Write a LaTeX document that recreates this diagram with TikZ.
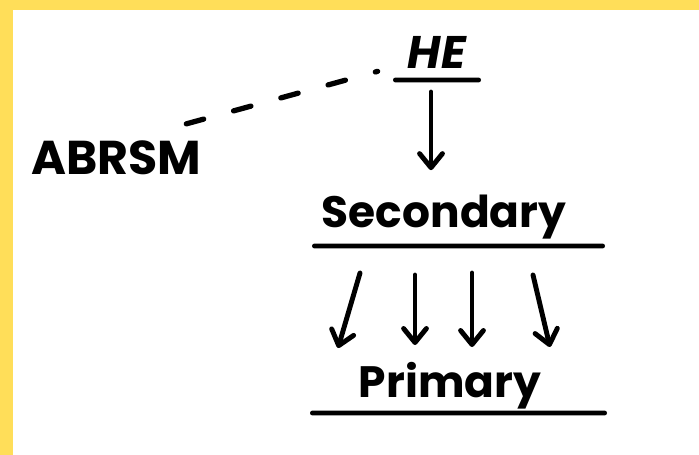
\documentclass[tikz,border=0pt]{standalone}
\usepackage{fontspec}
\setmainfont{Poppins}
\usetikzlibrary{positioning}
\usetikzlibrary{calc}
\usetikzlibrary{arrows.meta}
\definecolor{frame}{RGB}{255,222,89}

\begin{document}
\begin{tikzpicture}[
    word/.style={inner sep=0pt, anchor=base, font=\fontsize{25}{30}\selectfont\bfseries},
    bar/.style={fill=black, inner sep=0pt, minimum height=2.8pt, rounded corners=1.4pt},
    arr/.style={line width=2.8pt, line cap=round, -{Straight Barb[length=8pt, width=13pt, round]}},
    link/.style={line width=3pt, line cap=round, dash pattern=on 0.36cm off 0.62cm}
]
    \useasboundingbox (0,0) rectangle (13.98,-9.1);
    \fill[white] (0,0) rectangle (13.98,-9.1);
    \fill[frame] (0,0) rectangle (13.98,-0.2);
    \fill[frame] (0,0) rectangle (0.25,-9.1);

    \node[word, font=\fontsize{26}{30}\selectfont\bfseries\itshape] (he) at (8.74, -1.38) {HE};
    \node[bar, minimum width=1.76cm] (he-bar) at (8.74, -1.6) {};

    \node[word] (sec) at (8.88, -4.56) {Secondary};
    \node[bar, minimum width=5.86cm] (sec-bar) at (9.17, -4.92) {};

    \node[word] (prim) at (9.0, -7.94) {Primary};
    \node[bar, minimum width=5.94cm] (prim-bar) at (9.17, -8.26) {};

    \node[word, font=\fontsize{27}{30}\selectfont\bfseries] (abrsm) at (2.32, -3.5) {ABRSM};

    \draw[link] ([xshift=-0.3cm, yshift=0.34cm]abrsm.north east) -- ([xshift=-0.6cm, yshift=-0.04cm]he.south west);

    \draw[arr] ([xshift=-0.12cm, yshift=-0.24cm]he-bar.center) -- ([xshift=-0.26cm, yshift=0.5cm]sec.north);

    \draw[arr] ([xshift=-1.97cm, yshift=-0.54cm]sec-bar.center) -- ([xshift=-2.41cm, yshift=1.3cm]prim-bar.center);
    \draw[arr] ([xshift=-0.87cm, yshift=-0.58cm]sec-bar.center) -- ([xshift=-0.87cm, yshift=1.36cm]prim-bar.center);
    \draw[arr] ([xshift=0.27cm, yshift=-0.54cm]sec-bar.center) -- ([xshift=0.27cm, yshift=1.32cm]prim-bar.center);
    \draw[arr] ([xshift=1.49cm, yshift=-0.58cm]sec-bar.center) -- ([xshift=1.83cm, yshift=1.32cm]prim-bar.center);
\end{tikzpicture}
\end{document}
